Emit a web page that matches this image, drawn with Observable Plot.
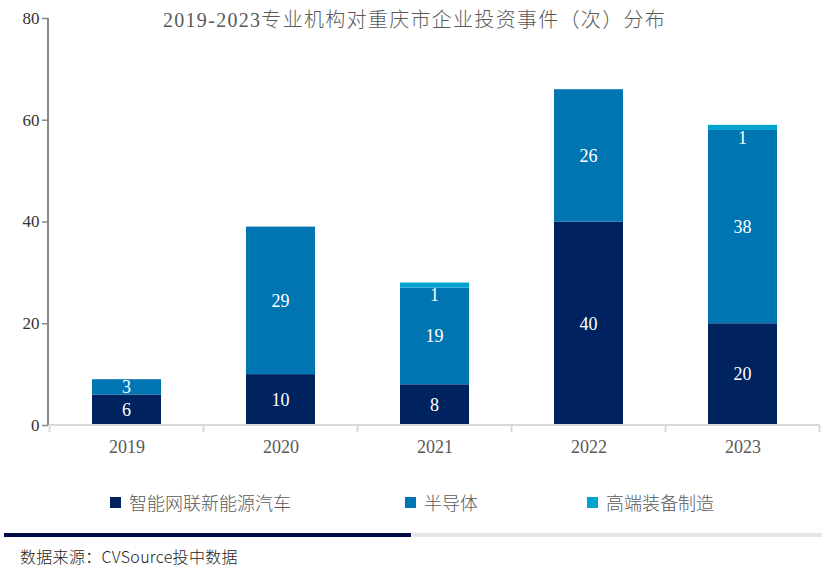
<!DOCTYPE html>
<html>
<head>
<meta charset="utf-8">
<script src="https://cdn.jsdelivr.net/npm/d3@7"></script>
<script src="https://cdn.jsdelivr.net/npm/@observablehq/plot@0.6"></script>
<style>
  html, body { margin: 0; padding: 0; background: #fff; }
  #wrap { position: relative; width: 829px; height: 579px; overflow: hidden; font-family: "Liberation Serif", "Noto Sans CJK SC", serif; }
  #title { position: absolute; top: 4px; left: 0; width: 829px; text-align: center; font-size: 20px; letter-spacing: 1.3px; color: #595959; font-weight: 300; }
  #legend { position: absolute; top: 489px; left: 0; width: 829px; height: 26px; font-size: 18px; color: #595959; font-family: "Noto Sans CJK SC", sans-serif; font-weight: 300; }
  .li { position: absolute; display: flex; align-items: center; }
  .sw { width: 11px; height: 11px; margin-right: 8px; }
  #barL { position: absolute; left: 4px; top: 533px; width: 407px; height: 4px; background: #000c45; }
  #barR { position: absolute; left: 412px; top: 533px; width: 410px; height: 4px; background: #e6e6e6; }
  #caption { position: absolute; left: 20px; top: 544px; font-size: 16px; color: #222; font-family: "Noto Sans CJK SC", sans-serif; font-weight: 300; letter-spacing: 0.3px; }
  #chart { position: absolute; left: 0; top: 0; }
</style>
</head>
<body>
<div id="wrap">
  <div id="chart"></div>
  <div id="title">2019-2023专业机构对重庆市企业投资事件（次）分布</div>
  <div id="legend"></div>
  <div id="barL"></div>
  <div id="barR"></div>
  <div id="caption">数据来源：CVSource投中数据</div>
</div>
<script>
const years = ["2019", "2020", "2021", "2022", "2023"];
const series = ["智能网联新能源汽车", "半导体", "高端装备制造"];
const colors = ["#002360", "#0075B2", "#00A3D0"];
const evValues = [6, 10, 8, 40, 20];
const semiValues = [3, 29, 19, 26, 38];
const equipValues = [0, 0, 1, 0, 1];
const yTicks = [0, 20, 40, 60, 80];

const valuesBySeries = [evValues, semiValues, equipValues];
const data = [];
years.forEach((yr, i) => {
  let base = 0;
  series.forEach((s, j) => {
    const v = valuesBySeries[j][i];
    data.push({year: yr, series: s, value: v, mid: base + v / 2});
    base += v;
  });
});

const W = 829, H = 470, ML = 48, MR = 7, MT = 18, MB = 45;
const PI = 0.55, PO = 0.275;
const serif = "Liberation Serif, serif";

const axisLines = (index, scales, values, dimensions) => {
  const g = d3.create("svg:g");
  const x = scales.x, y = scales.y;
  const bw = x.bandwidth();
  const st = x.step();
  const y0 = y(0);
  const xs = years.map(yr => x(yr) + bw / 2 - st / 2);
  xs.push(x(years[years.length - 1]) + bw / 2 + st / 2);
  g.append("line").attr("x1", xs[0]).attr("x2", xs[xs.length - 1]).attr("y1", y0).attr("y2", y0)
    .attr("stroke", "#d9d9d9").attr("stroke-width", 2);
  xs.forEach(px => {
    g.append("line").attr("x1", px).attr("x2", px).attr("y1", y0).attr("y2", y0 + 7)
      .attr("stroke", "#d9d9d9").attr("stroke-width", 2);
  });
  const yMax = y.domain ? y.domain()[1] : 80;
  g.append("line").attr("x1", dimensions.marginLeft).attr("x2", dimensions.marginLeft)
    .attr("y1", y(yTicks[yTicks.length - 1])).attr("y2", y0)
    .attr("stroke", "#888").attr("stroke-width", 2);
  return g.node();
};

const valueLabels = (index, scales, values, dimensions) => {
  const g = d3.create("svg:g")
    .attr("fill", "white").attr("font-family", serif).attr("font-size", 18)
    .attr("text-anchor", "middle");
  const x = scales.x, y = scales.y;
  const bw = x.bandwidth();
  data.filter(d => d.value > 0).forEach(d => {
    g.append("text")
      .attr("x", x(d.year) + bw / 2)
      .attr("y", y(d.mid) + (d.value <= 1 ? 10 : 0))
      .attr("dy", "0.35em")
      .text(String(d.value));
  });
  return g.node();
};

const plot = Plot.plot({
  width: W, height: H,
  marginLeft: ML, marginRight: MR, marginTop: MT, marginBottom: MB,
  style: {fontFamily: serif, fontSize: "16px", color: "#595959", background: "transparent"},
  x: {domain: years, paddingInner: PI, paddingOuter: PO, label: null},
  y: {domain: [0, 80], label: null},
  color: {domain: series, range: colors},
  marks: [
    Plot.barY(data, Plot.stackY({x: "year", y: "value", fill: "series", order: series})),
    axisLines,
    Plot.axisX({tickSize: 0, tickPadding: 15, fontSize: 18, fill: "#595959", fontFamily: serif}),
    Plot.axisY({ticks: yTicks, tickSize: 6, tickPadding: 3, stroke: "#888", strokeWidth: 1.5, fontSize: 17, fill: "#333", fontFamily: serif}),
    valueLabels
  ]
});
document.getElementById("chart").appendChild(plot);

// legend
const legend = document.getElementById("legend");
const legendX = [110, 405, 587];
series.forEach((s, i) => {
  const item = document.createElement("div");
  item.className = "li";
  item.style.left = legendX[i] + "px";
  item.innerHTML = `<div class="sw" style="background:${colors[i]}"></div><span>${s}</span>`;
  legend.appendChild(item);
});
</script>
</body>
</html>
